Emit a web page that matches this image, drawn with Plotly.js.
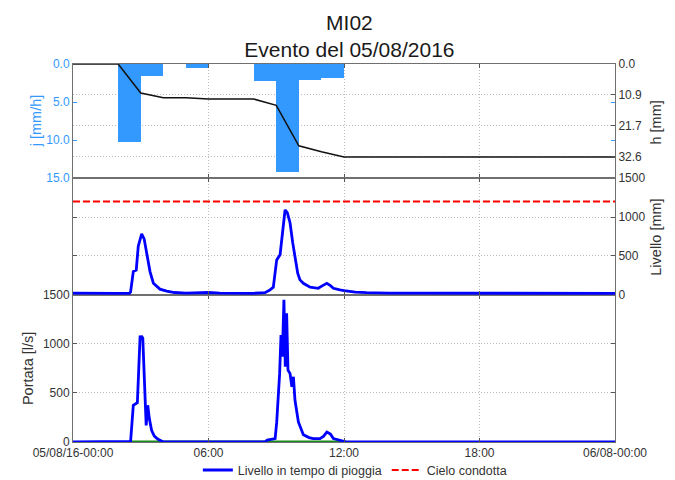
<!DOCTYPE html>
<html>
<head>
<meta charset="utf-8">
<script src="https://cdn.plot.ly/plotly-3.0.1.min.js"></script>
<style>
  html, body { margin: 0; padding: 0; background: #fff; }
  #chart { width: 675px; height: 480px; }
</style>
</head>
<body>
<div id="chart"></div>
<script>
// Hourly rainfall intensity (mm/h), bars centred on each hour
const rainHour = [2.5, 3.5, 5.5, 8.5, 9.5, 10.5, 11.5];
const rainIntensity = [10.2, 1.6, 0.5, 2.2, 14.2, 2.1, 1.8];

// Cumulative rainfall (mm)
const cumHour = [0, 2, 3, 4, 5, 6, 8, 9, 10, 11, 12, 24];
const cumRain = [0, 0, 10.2, 11.8, 11.8, 12.3, 12.3, 14.5, 28.7, 30.8, 32.6, 32.6];

// Sewer level during rain (mm)
const levelHour = [0, 0.5, 1, 1.5, 2, 2.5, 2.55, 2.67, 2.8, 2.89, 3.04, 3.15, 3.26, 3.41, 3.56, 3.85, 4.15, 4.5,
  5.0, 5.5, 6.0, 6.5, 7.0, 7.5, 8.0, 8.5, 8.7, 8.87, 9.02, 9.17, 9.28, 9.39, 9.49, 9.61, 9.73, 9.83, 9.95,
  10.05, 10.2, 10.5, 10.86, 11.05, 11.24, 11.4, 11.53, 11.82, 12.0, 12.5, 13, 14, 16, 18, 20, 22, 24];
const levelMm = [25, 22, 22, 22, 20, 22, 40, 300, 320, 625, 785, 720, 560, 300, 150, 75, 50, 32,
  25, 28, 32, 25, 22, 22, 22, 30, 60, 100, 450, 517, 840, 1090, 1056, 927, 668, 474, 280,
  194, 150, 100, 86, 120, 150, 120, 86, 65, 55, 38, 30, 25, 25, 22, 22, 22, 20];

// Pipe crown level (mm)
const crownHour = [0, 24];
const crownMm = [1200, 1200];

// Flow rate (l/s)
const flowHour = [0, 2.5, 2.55, 2.67, 2.8, 2.85, 2.97, 3.05, 3.09, 3.14, 3.2, 3.24, 3.31, 3.38, 3.48, 3.6, 3.75, 4.0,
  6, 8.5, 8.6, 8.95, 9.02, 9.09, 9.15, 9.21, 9.27, 9.34, 9.40, 9.46, 9.52, 9.61, 9.69, 9.76, 9.83, 9.98,
  10.2, 10.45, 10.64, 10.94, 11.1, 11.24, 11.4, 11.53, 11.75, 11.9, 12.12, 18, 24];
const flowLs = [0, 0, 5, 375, 392, 400, 1073, 1075, 1060, 767, 300, 170, 375, 239, 120, 60, 30, 0,
  0, 0, 20, 35, 200, 426, 700, 1091, 870, 1450, 767, 1313, 733, 700, 564, 665, 426, 205,
  75, 45, 35, 35, 60, 102, 80, 35, 20, 10, 0, 0, 0];

// Dry-weather flow baseline during the event (l/s)
const dryHour = [2.5, 12.1];
const dryLs = [0, 0];

// Axis ticks
const timeTicks = [0, 6, 12, 18, 24];
const timeLabels = ['05/08/16-00:00', '06:00', '12:00', '18:00', '06/08-00:00'];
const rainTicks = [0, 5, 10, 15];
const rainLabels = ['0.0', '5.0', '10.0', '15.0'];
const cumTicks = [0, 10.87, 21.73, 32.6];
const cumLabels = ['0.0', '10.9', '21.7', '32.6'];
const flowTicks = [0, 500, 1000, 1500];

const FONT = 'Liberation Sans, Arial, sans-serif';
const RAIN_BLUE = '#3399ff';
const LINE_BLUE = '#0000ff';
const AX_LINE = '#707070';
const GRID = '#bdbdbd';
const TXT = '#333333';
const TICK_SIZE = 12;
const TITLE_SIZE = 14.5;

const traces = [
  { type: 'bar', x: rainHour, y: rainIntensity, width: 1, xaxis: 'x2', yaxis: 'y',
    marker: { color: RAIN_BLUE, line: { width: 0 } }, showlegend: false, hoverinfo: 'skip' },
  { type: 'scatter', mode: 'lines', x: cumHour, y: cumRain, xaxis: 'x2', yaxis: 'y2',
    line: { color: '#111111', width: 1.5 }, showlegend: false },
  { type: 'scatter', mode: 'lines', x: levelHour, y: levelMm, xaxis: 'x3', yaxis: 'y3',
    name: 'Livello in tempo di pioggia', line: { color: LINE_BLUE, width: 2.8 } },
  { type: 'scatter', mode: 'lines', x: crownHour, y: crownMm, xaxis: 'x3', yaxis: 'y3',
    name: 'Cielo condotta', line: { color: '#ff0000', width: 2, dash: '7px,3px' } },
  { type: 'scatter', mode: 'lines', x: dryHour, y: dryLs, xaxis: 'x', yaxis: 'y4',
    line: { color: '#1a8a1a', width: 3 }, showlegend: false },
  { type: 'scatter', mode: 'lines', x: flowHour, y: flowLs, xaxis: 'x', yaxis: 'y4',
    line: { color: LINE_BLUE, width: 2.8 }, showlegend: false }
];

const xCommon = {
  range: [0, 24], tickvals: timeTicks, ticktext: timeLabels,
  showgrid: true, gridcolor: GRID, griddash: '1px,2px', gridwidth: 1,
  zeroline: false, showline: true, linecolor: AX_LINE, linewidth: 1, mirror: 'ticks',
  ticks: 'inside', ticklen: 4, tickcolor: '#555', fixedrange: true,
  tickfont: { family: FONT, size: TICK_SIZE, color: TXT }
};

const yCommon = {
  showgrid: true, gridcolor: GRID, griddash: '1px,2px', gridwidth: 1,
  zeroline: false, showline: true, linecolor: AX_LINE, linewidth: 1,
  ticks: 'inside', ticklen: 4, tickcolor: '#555', fixedrange: true,
  tickfont: { family: FONT, size: TICK_SIZE, color: TXT }
};

// Axis titles placed as rotated labels beside each panel
const axisTitle = (text, x, y, color) => ({
  text: text, xref: 'paper', yref: 'paper', x: x, y: y,
  xanchor: 'center', yanchor: 'middle', textangle: -90, showarrow: false,
  font: { family: FONT, size: TITLE_SIZE, color: color }
});

const layout = {
  width: 675, height: 480,
  paper_bgcolor: '#ffffff', plot_bgcolor: '#ffffff',
  margin: { l: 73, r: 60, t: 64, b: 38, autoexpand: false },
  font: { family: FONT, color: TXT },
  title: {
    text: 'MI02<br>Evento del 05/08/2016',
    font: { family: FONT, size: 21, color: '#1a1a1a' },
    x: 0.51, xref: 'paper', xanchor: 'center',
    y: 1 - 30 / 480, yref: 'container', yanchor: 'top'
  },
  bargap: 0,
  showlegend: true,
  legend: {
    orientation: 'h', x: 0.52, xanchor: 'center', y: -0.075, yanchor: 'middle',
    font: { family: FONT, size: 12.5, color: TXT }, bgcolor: 'rgba(0,0,0,0)',
    itemwidth: 30, tracegroupgap: 0
  },
  annotations: [
    axisTitle('j [mm/h]', -0.069, 0.85, RAIN_BLUE),
    axisTitle('h [mm]', 1.0756, 0.845, TXT),
    axisTitle('Livello [mm]', 1.0756, 0.543, TXT),
    axisTitle('Portata [l/s]', -0.083, 0.193, TXT)
  ],
  xaxis: Object.assign({}, xCommon, { anchor: 'y4', showticklabels: true }),
  xaxis2: Object.assign({}, xCommon, { anchor: 'y', showticklabels: false }),
  xaxis3: Object.assign({}, xCommon, { anchor: 'y3', showticklabels: false }),
  yaxis: Object.assign({}, yCommon, {
    domain: [0.6984, 1], anchor: 'x2', side: 'left',
    range: [15, 0], tickvals: rainTicks, ticktext: rainLabels,
    showgrid: false, mirror: 'ticks', tickcolor: RAIN_BLUE,
    tickfont: { family: FONT, size: TICK_SIZE, color: RAIN_BLUE }
  }),
  yaxis2: Object.assign({}, yCommon, {
    overlaying: 'y', anchor: 'x2', side: 'right',
    range: [40, 0], tickvals: cumTicks, ticktext: cumLabels
  }),
  yaxis3: Object.assign({}, yCommon, {
    domain: [0.3889, 0.6984], anchor: 'x3', side: 'right', mirror: 'ticks',
    range: [0, 1500], tickvals: flowTicks
  }),
  yaxis4: Object.assign({}, yCommon, {
    domain: [0, 0.3889], anchor: 'x', side: 'left', mirror: 'ticks',
    range: [0, 1500], tickvals: flowTicks
  })
};

Plotly.newPlot('chart', traces, layout, { displayModeBar: false, staticPlot: true });
</script>
</body>
</html>
